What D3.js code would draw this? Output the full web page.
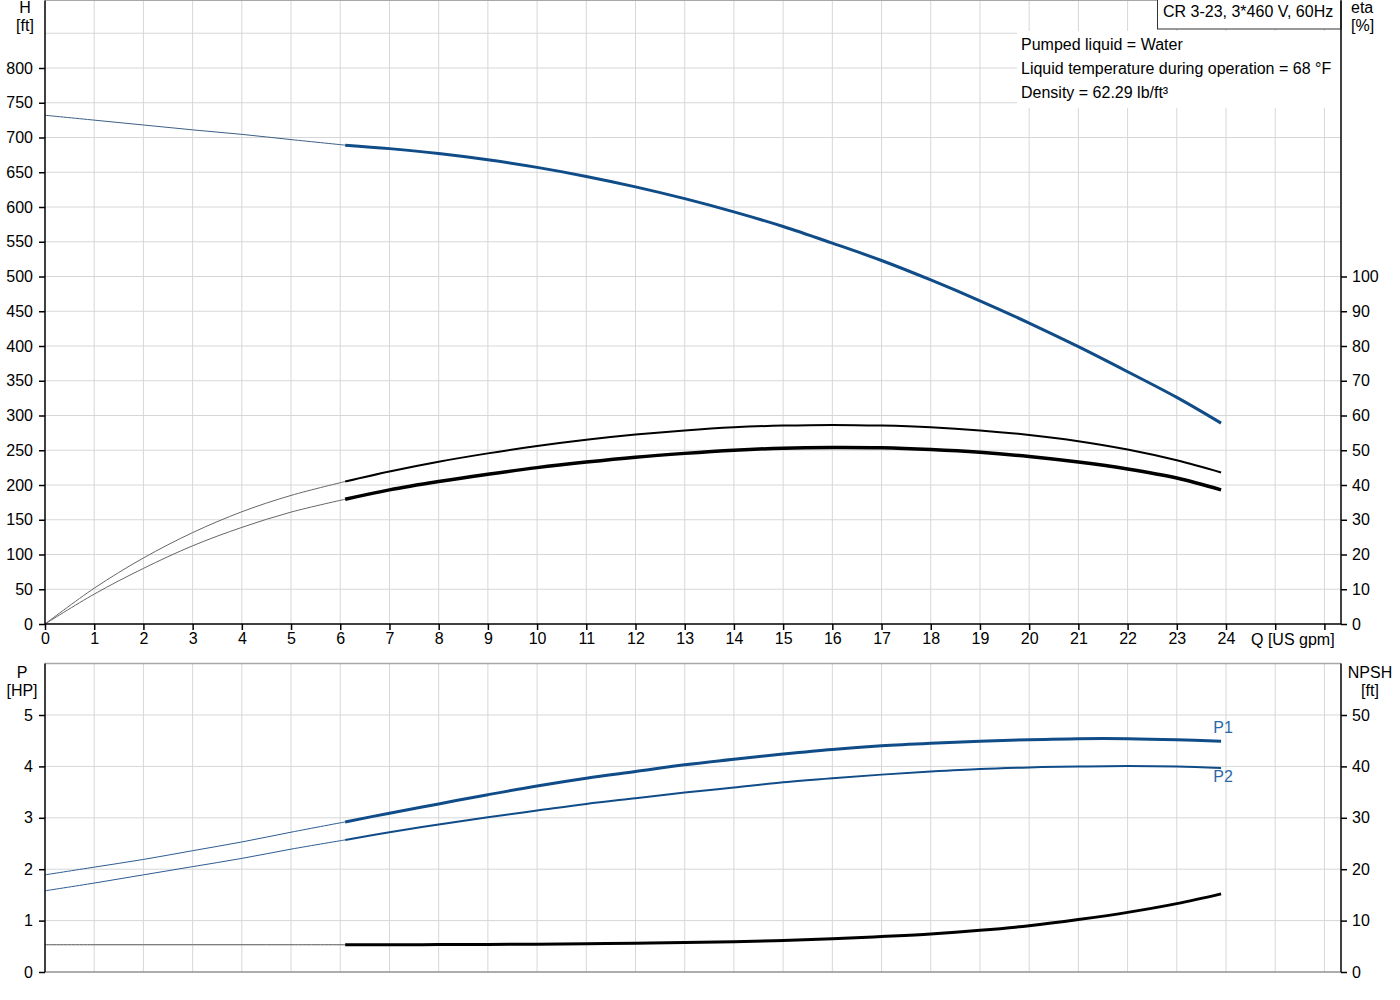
<!DOCTYPE html>
<html>
<head>
<meta charset="utf-8">
<script src="https://cdn.jsdelivr.net/npm/d3@7"></script>
<style>
  body { margin: 0; background: white; }
  svg text { font-family: "Liberation Sans", Arial, sans-serif; }
</style>
</head>
<body>
<div id="chart"></div>
<script>
// 流量 Q [US gpm] (細線: 0〜6.1, 太線: 6.1〜23.9)
const qThin = [0, 1, 2, 3, 4, 5, 6.1];
const qThick = [6.1, 7, 8, 9, 10, 11, 12, 13, 14, 15, 16, 17, 18, 19, 20, 21, 22, 23, 23.9];

// 揚程 H [ft]
const hThin = [732, 725, 718, 711, 704.5, 697, 689];
const hThick = [689, 684, 677, 668, 657, 644, 629, 612, 593, 572, 548, 523, 495, 465, 433, 399, 363, 326, 289];

// 効率 eta [%] (上: ポンプ, 下: 総合)
const etaPThin = [0, 10.3, 19.0, 26.3, 32.3, 37.0, 41.0];
const etaPThick = [41.0, 43.9, 46.7, 49.1, 51.2, 53.0, 54.5, 55.7, 56.6, 57.1, 57.3, 57.1, 56.6, 55.7, 54.4, 52.6, 50.2, 47.1, 43.6];
const etaTThin = [0, 8.6, 16.0, 22.5, 27.8, 32.2, 35.9];
const etaTThick = [35.9, 38.6, 41.0, 43.1, 45.0, 46.6, 48.0, 49.1, 50.0, 50.6, 50.8, 50.7, 50.2, 49.4, 48.2, 46.6, 44.6, 42.0, 38.6];

// 動力 P1, P2 [HP]
const p1Thin = [1.89, 2.04, 2.19, 2.36, 2.53, 2.72, 2.92];
const p1Thick = [2.92, 3.09, 3.27, 3.45, 3.62, 3.77, 3.90, 4.03, 4.14, 4.24, 4.33, 4.40, 4.45, 4.49, 4.52, 4.54, 4.54, 4.52, 4.49];
const p2Thin = [1.58, 1.73, 1.89, 2.05, 2.21, 2.39, 2.57];
const p2Thick = [2.57, 2.72, 2.87, 3.01, 3.14, 3.27, 3.38, 3.49, 3.59, 3.69, 3.77, 3.84, 3.90, 3.95, 3.98, 4.00, 4.01, 4.00, 3.97];

// NPSH [ft]
const npshThin = [5.3, 5.3, 5.3, 5.3, 5.3, 5.3, 5.3];
const npshThick = [5.30, 5.31, 5.33, 5.37, 5.42, 5.50, 5.60, 5.73, 5.90, 6.15, 6.45, 6.90, 7.40, 8.10, 9.00, 10.2, 11.6, 13.3, 15.2];

// 目盛り
const qTicks = d3.range(0, 27);
const qLabels = d3.range(0, 25);
const hTicks = d3.range(0, 801, 50);
const hGrid = d3.range(50, 851, 50);
const etaTicks = d3.range(0, 101, 10);
const pTicks = d3.range(0, 6);
const npshTicks = d3.range(0, 51, 10);

const infoLines = ["Pumped liquid = Water", "Liquid temperature during operation = 68 °F", "Density = 62.29 lb/ft³"];
const titleText = "CR 3-23, 3*460 V, 60Hz";

const blue = "#0f4c88";
const gridColor = "#d5d7d9";
const fontSize = "16px";

const width = 1400, height = 1000;
const svg = d3.select("#chart").append("svg")
    .attr("width", width)
    .attr("height", height)
    .attr("viewBox", `0 0 ${width} ${height}`);

// スケール
const x = d3.scaleLinear().domain([0, 24]).range([45, 1226]);
const xLeft = x(0), xRight = 1341;
const yH = d3.scaleLinear().domain([0, 800]).range([624, 68]);
const yEta = d3.scaleLinear().domain([0, 100]).range([624, yH(500)]);
const yP = d3.scaleLinear().domain([0, 5]).range([972, 715]);
const yN = d3.scaleLinear().domain([0, 50]).range([972, 715]);
const topY1 = 0.5, topY2 = yH(0);
const botY1 = yP(6), botY2 = yP(0);

// グリッド線
const grid = svg.append("g").attr("stroke", gridColor).attr("stroke-width", 1);
qTicks.filter(d => d > 0).forEach(d => {
    grid.append("line").attr("x1", x(d)).attr("x2", x(d)).attr("y1", topY1).attr("y2", topY2);
    grid.append("line").attr("x1", x(d)).attr("x2", x(d)).attr("y1", botY1).attr("y2", botY2);
});
hGrid.forEach(d => {
    grid.append("line").attr("x1", xLeft).attr("x2", xRight).attr("y1", yH(d)).attr("y2", yH(d));
});
pTicks.filter(d => d > 0).forEach(d => {
    grid.append("line").attr("x1", xLeft).attr("x2", xRight).attr("y1", yP(d)).attr("y2", yP(d));
});

// 枠線 (灰色)
svg.append("line").attr("x1", xLeft).attr("x2", xRight).attr("y1", topY1).attr("y2", topY1)
    .attr("stroke", "#a8a8a8");
svg.append("line").attr("x1", xLeft).attr("x2", xRight).attr("y1", botY1).attr("y2", botY1)
    .attr("stroke", "#a8a8a8").attr("stroke-width", 1.5);
svg.append("line").attr("x1", xLeft).attr("x2", xRight).attr("y1", botY2).attr("y2", botY2)
    .attr("stroke", "#909090").attr("stroke-width", 1.5);

// 情報ボックス (白背景)
svg.append("rect").attr("x", 1017).attr("y", 31).attr("width", xRight - 1017).attr("height", 77)
    .attr("fill", "white");
const info = svg.append("g").attr("font-size", fontSize).attr("fill", "black");
infoLines.forEach((t, i) => {
    info.append("text").attr("x", 1021).attr("y", 50 + i * 24).text(t);
});

// タイトルボックス
svg.append("rect").attr("x", 1157.5).attr("y", -1).attr("width", xRight - 1157.5).attr("height", 30)
    .attr("fill", "white").attr("stroke", "#333").attr("stroke-width", 1);
svg.append("text").attr("x", 1163).attr("y", 17).attr("font-size", fontSize).text(titleText);

// 曲線を描く関数
const line = (xs, ys, yScale) => d3.line()
    .x((d, i) => x(xs[i]))
    .y(d => yScale(d))
    .curve(d3.curveCatmullRom)(ys);

function drawCurve(xs, ys, yScale, color, w) {
    svg.append("path")
        .attr("d", line(xs, ys, yScale))
        .attr("fill", "none")
        .attr("stroke", color)
        .attr("stroke-width", w)
        .attr("stroke-linecap", "butt");
}

// 上段: H, eta
drawCurve(qThin, hThin, yH, "#3d5f85", 1);
drawCurve(qThick, hThick, yH, blue, 3);
drawCurve(qThin, etaPThin, yEta, "#666", 1);
drawCurve(qThick, etaPThick, yEta, "black", 2);
drawCurve(qThin, etaTThin, yEta, "#666", 1);
drawCurve(qThick, etaTThick, yEta, "black", 3.5);

// 下段: P1, P2, NPSH
drawCurve(qThin, p1Thin, yP, "#2c5d92", 1);
drawCurve(qThick, p1Thick, yP, blue, 3);
drawCurve(qThin, p2Thin, yP, "#2c5d92", 1);
drawCurve(qThick, p2Thick, yP, blue, 2);
drawCurve(qThin, npshThin, yN, "#555", 1);
drawCurve(qThick, npshThick, yN, "black", 3);

// P1, P2 ラベル
svg.append("text").attr("x", x(23.9) + 2).attr("y", 733).attr("text-anchor", "middle")
    .attr("font-size", fontSize).attr("fill", "#2a68a8").text("P1");
svg.append("text").attr("x", x(23.9) + 2).attr("y", 782).attr("text-anchor", "middle")
    .attr("font-size", fontSize).attr("fill", "#2a68a8").text("P2");

// 軸線 (黒)
const axisLine = (x1, y1, x2, y2) => svg.append("line")
    .attr("x1", x1).attr("y1", y1).attr("x2", x2).attr("y2", y2)
    .attr("stroke", "black").attr("stroke-width", 1.5);
axisLine(xLeft, topY1, xLeft, topY2);
axisLine(xRight, topY1, xRight, topY2);
axisLine(xLeft, topY2, xRight, topY2);
axisLine(xLeft, botY1, xLeft, botY2);
axisLine(xRight, botY1, xRight, botY2);

// 軸の目盛りとラベル
function styleAxis(g) {
    g.select(".domain").remove();
    g.selectAll(".tick line").attr("stroke", "black").attr("stroke-width", 1.5);
    g.selectAll(".tick text").attr("font-size", fontSize).attr("fill", "black")
        .attr("font-family", "Liberation Sans, Arial, sans-serif");
}

svg.append("g").attr("transform", `translate(0,${topY2})`)
    .call(d3.axisBottom(x).tickValues(qTicks).tickSize(6).tickPadding(3)
        .tickFormat(d => qLabels.includes(d) ? d : ""))
    .call(styleAxis);
svg.append("g").attr("transform", `translate(${xLeft},0)`)
    .call(d3.axisLeft(yH).tickValues(hTicks).tickSize(6).tickPadding(6).tickFormat(d3.format("d")))
    .call(styleAxis);
svg.append("g").attr("transform", `translate(${xRight},0)`)
    .call(d3.axisRight(yEta).tickValues(etaTicks).tickSize(6).tickPadding(5).tickFormat(d3.format("d")))
    .call(styleAxis);
svg.append("g").attr("transform", `translate(${xLeft},0)`)
    .call(d3.axisLeft(yP).tickValues(pTicks).tickSize(6).tickPadding(6).tickFormat(d3.format("d")))
    .call(styleAxis);
svg.append("g").attr("transform", `translate(${xRight},0)`)
    .call(d3.axisRight(yN).tickValues(npshTicks).tickSize(6).tickPadding(5).tickFormat(d3.format("d")))
    .call(styleAxis);

// 軸タイトル
const label = (tx, ty, t, anchor) => svg.append("text")
    .attr("x", tx).attr("y", ty)
    .attr("text-anchor", anchor || "middle")
    .attr("font-size", fontSize)
    .attr("fill", "black")
    .text(t);
label(25, 13, "H");
label(25, 31, "[ft]");
label(1351, 13, "eta", "start");
label(1351, 31, "[%]", "start");
label(1251, 645, "Q [US gpm]", "start");
label(22, 678, "P");
label(22, 696, "[HP]");
label(1370, 678, "NPSH");
label(1370, 696, "[ft]");
</script>
</body>
</html>
